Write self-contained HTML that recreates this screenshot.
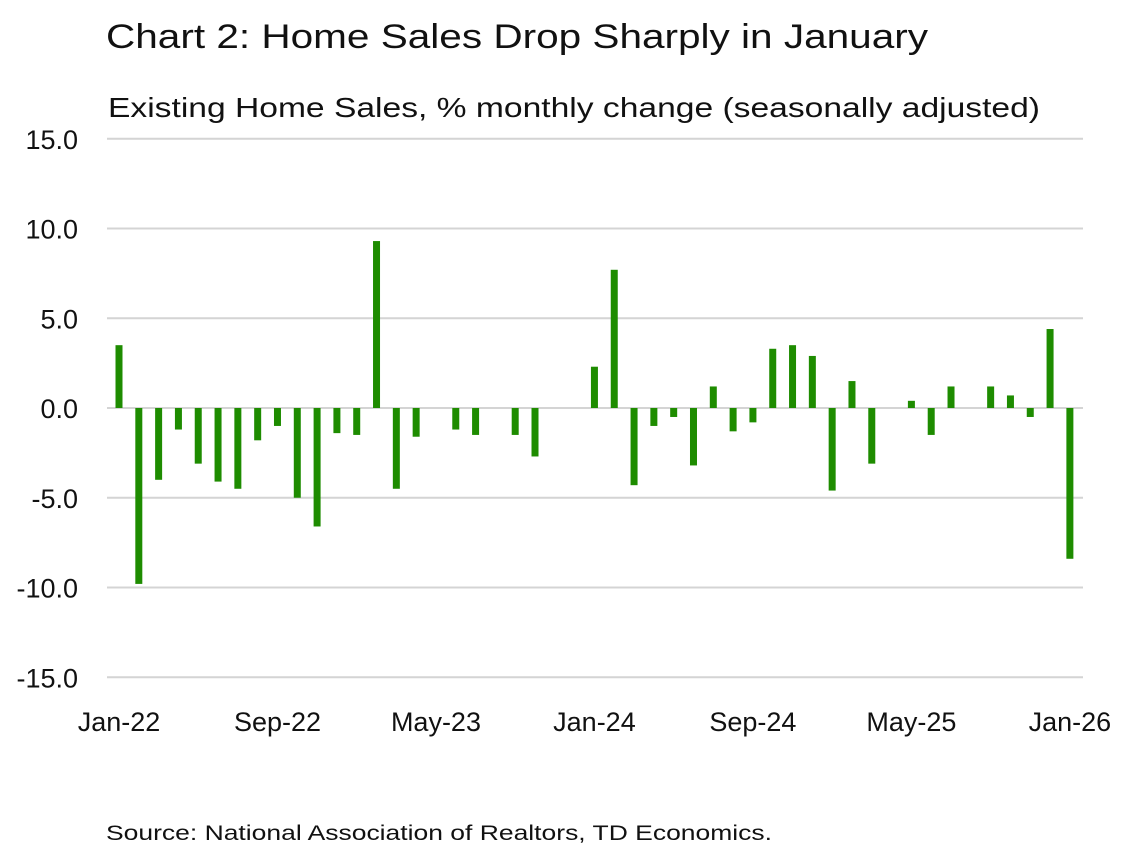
<!DOCTYPE html>
<html><head><meta charset="utf-8"><style>
body{margin:0;background:#fff;font-family:"Liberation Sans",sans-serif;}
</style></head><body>
<svg width="1139" height="850" xmlns="http://www.w3.org/2000/svg" id="chart">
<text x="106" y="48" font-size="34" fill="#111" textLength="822" lengthAdjust="spacingAndGlyphs" font-family="Liberation Sans, sans-serif">Chart 2: Home Sales Drop Sharply in January</text>
<text x="108" y="117" font-size="28" fill="#111" textLength="932" lengthAdjust="spacingAndGlyphs" font-family="Liberation Sans, sans-serif">Existing Home Sales, % monthly change (seasonally adjusted)</text>
<text x="106" y="840" font-size="21" fill="#111" textLength="666" lengthAdjust="spacingAndGlyphs" font-family="Liberation Sans, sans-serif">Source: National Association of Realtors, TD Economics.</text>
<g id="grid"></g><g id="bars"></g><g id="xlab"></g>
</svg>
<script>
const yTicks=[15,10,5,0,-5,-10,-15];
const yTickLabels=["15.0","10.0","5.0","0.0","-5.0","-10.0","-15.0"];
const values=[3.5,-9.8,-4.0,-1.2,-3.1,-4.1,-4.5,-1.8,-1.0,-5.0,-6.6,-1.4,-1.5,9.3,-4.5,-1.6,0,-1.2,-1.5,0,-1.5,-2.7,0,0,2.3,7.7,-4.3,-1.0,-0.5,-3.2,1.2,-1.3,-0.8,3.3,3.5,2.9,-4.6,1.5,-3.1,0,0.4,-1.5,1.2,0,1.2,0.7,-0.5,4.4,-8.4];
const xLabels=["Jan-22","Sep-22","May-23","Jan-24","Sep-24","May-25","Jan-26"];
const xLabelIdx=[0,8,16,24,32,40,48];
const ns="http://www.w3.org/2000/svg";
const y=v=>408-v*17.95;
const x=i=>119+i*19.81;
const g=document.getElementById('grid'),b=document.getElementById('bars'),xl=document.getElementById('xlab');
function mk(tag,attrs,parent){const e=document.createElementNS(ns,tag);for(const k in attrs)e.setAttribute(k,attrs[k]);parent.appendChild(e);return e;}
yTicks.forEach((t,i)=>{
 const l=mk('line',{x1:107,x2:1083,y1:y(t),y2:y(t),stroke:'#d4d4d4','stroke-width':2},g);
 
 
 const tx=mk('text',{x:78,y:y(t)+10,'font-size':27,'text-anchor':'end',fill:'#111'},g);
 tx.textContent=yTickLabels[i];
 
 
});
values.forEach((v,i)=>{
 if(v===0)return;
 const r=mk('rect',{x:x(i)-3.5,width:7,y:Math.min(y(v),y(0)),height:Math.abs(y(v)-y(0)),fill:'#1e8c00'},b);
 
 
});
xLabels.forEach((s,i)=>{
 const tx=mk('text',{x:x(xLabelIdx[i]),y:731,'font-size':27,'text-anchor':'middle',fill:'#111'},xl);
 tx.textContent=s;
 
 
});
</script>
</body></html>
